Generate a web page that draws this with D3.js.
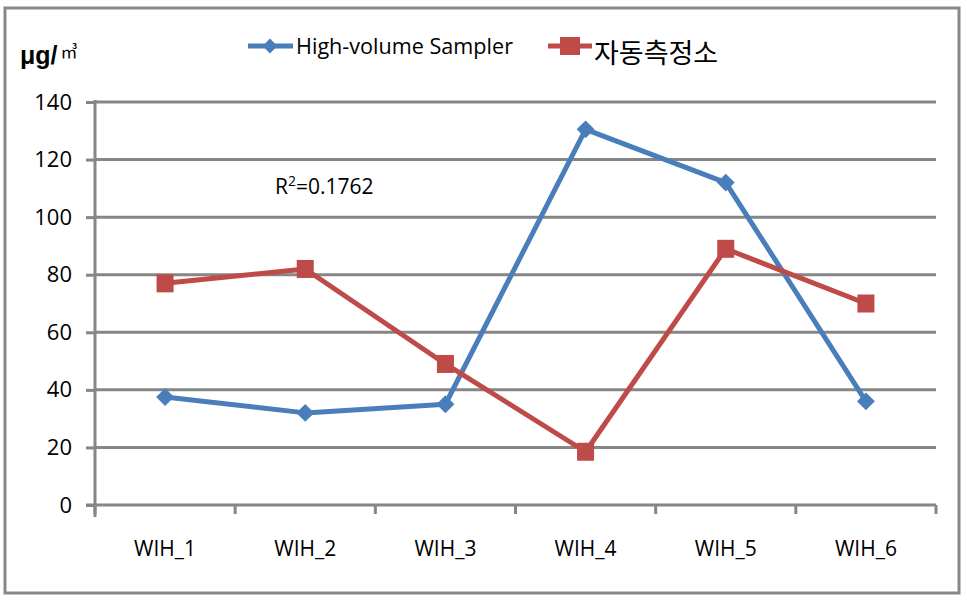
<!DOCTYPE html>
<html><head><meta charset="utf-8">
<script src="https://cdn.jsdelivr.net/npm/d3@7"></script>
<style>body{margin:0;background:#fff}</style>
</head><body>
<svg id="c" width="967" height="600"></svg>
<script>
const categories = ["WIH_1","WIH_2","WIH_3","WIH_4","WIH_5","WIH_6"];
const hvsValues = [37.5, 32, 35, 130.5, 112, 36];
const autoValues = [77, 82, 49, 18.5, 89, 70];
const yTicks = [0,20,40,60,80,100,120,140];
const seriesNames = ["High-volume Sampler","자동측정소"];
const seriesColors = ["#4A7EBB","#BE4B48"];
const annotation = "0.1762";

(function(){
const svg = d3.select("#c");
const pL = 95, pR = 936, pT = 102, pB = 505;
const font = "'Open Sans',sans-serif";

svg.append("rect").attr("x",5).attr("y",8).attr("width",954).attr("height",585)
  .attr("fill","#fff").attr("stroke","#888").attr("stroke-width",3);

const x = d3.scaleBand().domain(categories).range([pL,pR]);
const y = d3.scaleLinear().domain([0,140]).range([pB,pT]);

svg.append("g").selectAll("line").data(yTicks.filter(d=>d>0)).join("line")
  .attr("x1",pL).attr("x2",pR).attr("y1",d=>y(d)).attr("y2",d=>y(d))
  .attr("stroke","#868686").attr("stroke-width",3);

const ya = svg.append("g").attr("transform",`translate(${pL},0)`)
  .call(d3.axisLeft(y).tickValues(yTicks).tickSize(9).tickPadding(14));
ya.select(".domain").attr("stroke","#868686").attr("stroke-width",3).attr("d",`M0,${pT-2}V${pB+12}`);
ya.selectAll(".tick line").attr("stroke","#868686").attr("stroke-width",3);
ya.selectAll(".tick text").attr("font-family",font).attr("font-size",22).attr("fill","#000");

const xa = svg.append("g").attr("transform",`translate(0,${pB})`)
  .call(d3.axisBottom(x).tickSize(0).tickPadding(36));
xa.select(".domain").attr("stroke","#868686").attr("stroke-width",3).attr("d",`M${pL-9},0H${pR}`);
xa.selectAll(".tick text").attr("font-family",font).attr("font-size",21).attr("fill","#000");
svg.append("g").selectAll("line").data(d3.range(categories.length+1)).join("line")
  .attr("x1",i=>pL+i*x.bandwidth()).attr("x2",i=>pL+i*x.bandwidth())
  .attr("y1",pB).attr("y2",pB+9).attr("stroke","#868686").attr("stroke-width",3);

const cx = d=>x(d)+x.bandwidth()/2;
const line = d3.line().x(d=>cx(d.c)).y(d=>y(d.v));
const data = [hvsValues, autoValues].map(arr=>arr.map((v,i)=>({c:categories[i],v})));

data.forEach((s,k)=>{
  svg.append("path").datum(s).attr("d",line).attr("fill","none")
    .attr("stroke",seriesColors[k]).attr("stroke-width",5).attr("stroke-linejoin","round");
});
svg.append("g").selectAll("path").data(data[0]).join("path")
  .attr("d",d3.symbol(d3.symbolSquare, 160))
  .attr("transform",d=>`translate(${cx(d.c)},${y(d.v)}) rotate(45)`)
  .attr("fill",seriesColors[0]);
svg.append("g").selectAll("rect").data(data[1]).join("rect")
  .attr("x",d=>cx(d.c)-8.5).attr("y",d=>y(d.v)-9).attr("width",17).attr("height",18)
  .attr("fill",seriesColors[1]);

const lg = svg.append("g");
lg.append("line").attr("x1",248).attr("x2",293).attr("y1",46).attr("y2",46).attr("stroke",seriesColors[0]).attr("stroke-width",5);
lg.append("path").attr("d",d3.symbol(d3.symbolSquare,110)).attr("transform","translate(270,46) rotate(45)").attr("fill",seriesColors[0]);
lg.append("text").attr("x",296).attr("y",54).text(seriesNames[0]).attr("font-family",font).attr("font-size",22)
  .attr("textLength",217).attr("lengthAdjust","spacingAndGlyphs");
lg.append("line").attr("x1",548).attr("x2",592).attr("y1",46).attr("y2",46).attr("stroke",seriesColors[1]).attr("stroke-width",5);
lg.append("rect").attr("x",560).attr("y",37).attr("width",20).attr("height",18).attr("fill",seriesColors[1]);
lg.append("text").attr("x",594).attr("y",63).text(seriesNames[1]).attr("font-family","'Noto Sans CJK KR',sans-serif").attr("font-size",27);

const u = svg.append("text").attr("x",20).attr("y",64).attr("font-family","'Liberation Sans',sans-serif");
u.append("tspan").text("μg/").attr("font-size",25).attr("font-weight","bold");
u.append("tspan").text("㎥").attr("font-size",17).attr("dx",3).attr("dy",-6).attr("font-family","'Noto Sans CJK KR',sans-serif");

const t = svg.append("text").attr("x",275).attr("y",194).attr("font-family",font).attr("font-size",21);
t.append("tspan").text("R");
t.append("tspan").text("2").attr("font-size",14).attr("dy",-8);
t.append("tspan").text("=" + annotation).attr("dy",8);
})();
</script>
</body></html>
